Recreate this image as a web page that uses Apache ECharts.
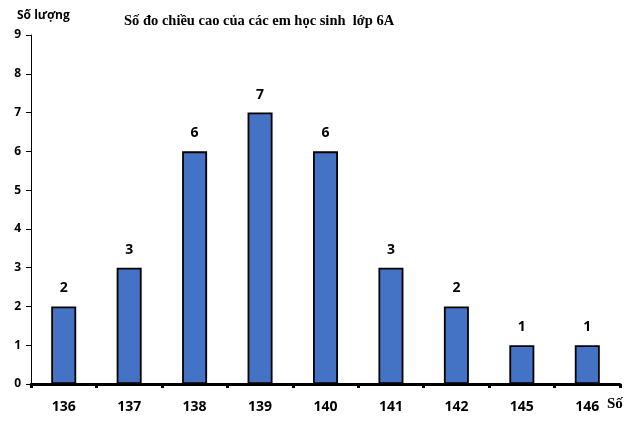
<!DOCTYPE html>
<html><head><meta charset="utf-8">
<script src="https://cdn.jsdelivr.net/npm/echarts@6/dist/echarts.min.js"></script>
<style>html,body{margin:0;padding:0;background:#fff}#c{width:643px;height:426px}</style>
</head><body><div id="c"></div>
<script>
const categories = ['136','137','138','139','140','141','142','145','146'];
const counts = [2,3,6,7,6,3,2,1,1];
const yTicks = [0,1,2,3,4,5,6,7,8,9];

const chart = echarts.init(document.getElementById('c'), null, {renderer:'canvas'});
chart.setOption({
  animation:false,
  backgroundColor:'#fff',
  title:{
    text:'Số đo chiều cao của các em học sinh  lớp 6A',
    left:119, top:9,
    textStyle:{fontFamily:'Liberation Serif', fontWeight:'bold', fontSize:14.5, color:'#000'}
  },
  graphic:[
    {type:'text', left:17, top:10, style:{text:'Số lượng', font:'bold 12px "Open Sans"', fill:'#000'}},
    {type:'text', left:607, top:397, style:{text:'Số', font:'bold 15px "Liberation Serif"', fill:'#000'}}
  ],
  grid:{left:31, right:23, top:35, bottom:42, containLabel:false},
  xAxis:{
    type:'category', data:categories,
    axisLine:{lineStyle:{color:'#000', width:3}},
    axisTick:{show:true, length:4, lineStyle:{color:'#000', width:3}},
    axisLabel:{color:'#000', fontWeight:'bold', fontSize:14, fontFamily:'Open Sans', margin:16}
  },
  yAxis:{
    type:'value', min:yTicks[0], max:yTicks[yTicks.length-1], interval:1,
    axisLine:{show:true, lineStyle:{color:'#000', width:1}},
    axisTick:{show:true, length:5, lineStyle:{color:'#000'}},
    splitLine:{show:false},
    axisLabel:{color:'#000', fontWeight:'bold', fontSize:12, fontFamily:'Open Sans', margin:10}
  },
  series:[{
    type:'bar', data:counts, barWidth:25,
    itemStyle:{color:'#4472C4', borderColor:'#000', borderWidth:1.8},
    label:{show:true, position:'top', distance:11, color:'#000', fontWeight:'bold', fontSize:14, fontFamily:'Open Sans'}
  }]
});
</script></body></html>
